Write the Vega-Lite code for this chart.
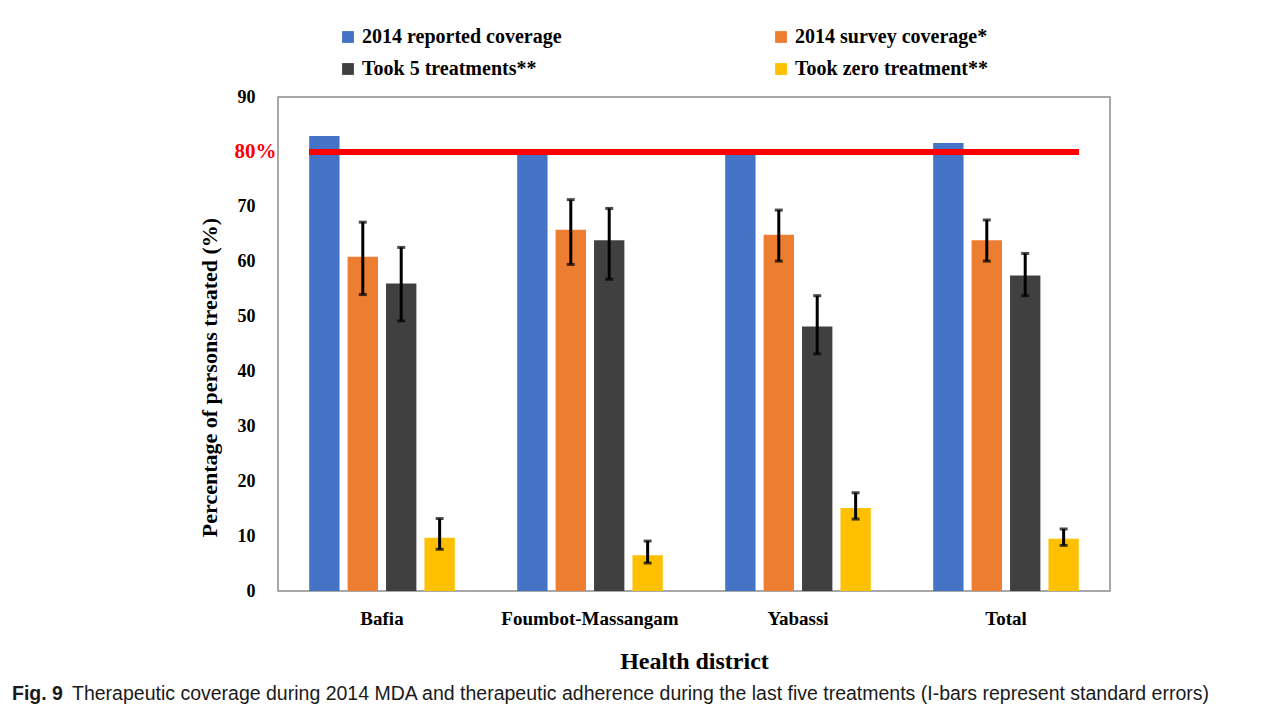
{
  "$schema": "https://vega.github.io/schema/vega-lite/v6.json",
  "width": 832,
  "height": 494,
  "autosize": {"type": "none"},
  "padding": {"left": 278, "top": 97, "right": 171, "bottom": 119},
  "background": "white",
  "data": {
    "values": [
      {"district": "Bafia", "series": "2014 reported coverage", "value": 82.9, "lo": null, "hi": null},
      {"district": "Bafia", "series": "2014 survey coverage*", "value": 60.9, "lo": 54.0, "hi": 67.2},
      {"district": "Bafia", "series": "Took 5 treatments**", "value": 56.0, "lo": 49.2, "hi": 62.6},
      {"district": "Bafia", "series": "Took zero treatment**", "value": 9.7, "lo": 7.6, "hi": 13.2},
      {"district": "Foumbot-Massangam", "series": "2014 reported coverage", "value": 79.8, "lo": null, "hi": null},
      {"district": "Foumbot-Massangam", "series": "2014 survey coverage*", "value": 65.8, "lo": 59.5, "hi": 71.3},
      {"district": "Foumbot-Massangam", "series": "Took 5 treatments**", "value": 63.9, "lo": 56.8, "hi": 69.7},
      {"district": "Foumbot-Massangam", "series": "Took zero treatment**", "value": 6.5, "lo": 5.1, "hi": 9.1},
      {"district": "Yabassi", "series": "2014 reported coverage", "value": 80.3, "lo": null, "hi": null},
      {"district": "Yabassi", "series": "2014 survey coverage*", "value": 64.9, "lo": 60.1, "hi": 69.4},
      {"district": "Yabassi", "series": "Took 5 treatments**", "value": 48.2, "lo": 43.2, "hi": 53.8},
      {"district": "Yabassi", "series": "Took zero treatment**", "value": 15.1, "lo": 13.1, "hi": 17.9},
      {"district": "Total", "series": "2014 reported coverage", "value": 81.6, "lo": null, "hi": null},
      {"district": "Total", "series": "2014 survey coverage*", "value": 63.9, "lo": 60.1, "hi": 67.6},
      {"district": "Total", "series": "Took 5 treatments**", "value": 57.5, "lo": 53.8, "hi": 61.5},
      {"district": "Total", "series": "Took zero treatment**", "value": 9.5, "lo": 8.3, "hi": 11.3}
    ]
  },
  "title": {
    "text": "Fig. 9",
    "subtitle": "\u2800\u2800\u2800\u2800Therapeutic coverage during 2014 MDA and therapeutic adherence during the last five treatments (I-bars represent standard errors)",
    "orient": "bottom",
    "anchor": "start",
    "frame": "group",
    "dx": -266,
    "offset": 12,
    "font": "Liberation Sans",
    "fontSize": 19.5,
    "fontWeight": "bold",
    "color": "#1a1a1a",
    "subtitleFont": "Liberation Sans",
    "subtitleFontSize": 19.5,
    "subtitleFontWeight": "normal",
    "subtitleColor": "#1a1a1a",
    "subtitlePadding": -19.5
  },
  "encoding": {
    "x": {
      "field": "district",
      "type": "nominal",
      "sort": ["Bafia", "Foumbot-Massangam", "Yabassi", "Total"],
      "scale": {"paddingInner": 0.3, "paddingOuter": 0.15},
      "axis": {
        "title": "Health district",
        "titleFont": "Liberation Serif",
        "titleFontSize": 24,
        "titleFontWeight": "bold",
        "titleColor": "black",
        "titlePadding": 21,
        "labelFont": "Liberation Serif",
        "labelFontSize": 19,
        "labelFontWeight": "bold",
        "labelColor": "black",
        "labelAngle": 0,
        "labelPadding": 18,
        "ticks": false,
        "domain": false
      }
    }
  },
  "layer": [
    {
      "mark": {"type": "bar"},
      "encoding": {
        "xOffset": {
          "field": "series",
          "type": "nominal",
          "sort": ["2014 reported coverage", "2014 survey coverage*", "Took 5 treatments**", "Took zero treatment**"],
          "scale": {"paddingInner": 0.21, "paddingOuter": 0}
        },
        "y": {
          "field": "value",
          "type": "quantitative",
          "scale": {"domain": [0, 90], "nice": false},
          "axis": {
            "title": "Percentage of persons  treated (%)",
            "titleFont": "Liberation Serif",
            "titleFontSize": 22,
            "titleFontWeight": "bold",
            "titleColor": "black",
            "titleX": -57,
            "titleY": 280,
            "values": [0, 10, 20, 30, 40, 50, 60, 70, 80, 90],
            "labelExpr": "datum.value == 80 ? '80%' : datum.label",
            "labelFont": "Liberation Serif",
            "labelFontSize": {"condition": {"test": "datum.value == 80", "value": 21}, "value": 18},
            "labelFontWeight": "bold",
            "labelColor": {"condition": {"test": "datum.value == 80", "value": "#ff0000"}, "value": "black"},
            "labelPadding": {"condition": {"test": "datum.value == 80", "value": 2}, "value": 23},
            "ticks": false,
            "domain": false,
            "grid": false
          }
        },
        "color": {
          "field": "series",
          "type": "nominal",
          "sort": ["2014 reported coverage", "2014 survey coverage*", "Took 5 treatments**", "Took zero treatment**"],
          "scale": {
            "domain": ["2014 reported coverage", "2014 survey coverage*", "Took 5 treatments**", "Took zero treatment**"],
            "range": ["#4472C4", "#ED7D31", "#404040", "#FFC000"]
          },
          "legend": {
            "title": null,
            "orient": "none",
            "legendX": 60,
            "legendY": -70,
            "direction": "horizontal",
            "columns": 2,
            "columnPadding": 209,
            "rowPadding": 12,
            "symbolType": "square",
            "symbolSize": 140,
            "symbolStrokeWidth": 0,
            "labelFont": "Liberation Serif",
            "labelFontSize": 20,
            "labelFontWeight": "bold",
            "labelColor": "black",
            "labelOffset": 4,
            "labelLimit": 0
          }
        }
      }
    },
    {
      "mark": {"type": "rule", "color": "#ff0000", "strokeWidth": 5},
      "encoding": {
        "x": {"datum": "Bafia", "bandPosition": 0},
        "x2": {"datum": "Total", "bandPosition": 1},
        "y": {"datum": 80, "type": "quantitative"}
      }
    },
    {
      "transform": [{"filter": "datum.lo != null"}],
      "mark": {"type": "rule", "color": "black", "strokeWidth": 3},
      "encoding": {
        "xOffset": {
          "field": "series",
          "type": "nominal",
          "sort": ["2014 reported coverage", "2014 survey coverage*", "Took 5 treatments**", "Took zero treatment**"]
        },
        "y": {"field": "lo", "type": "quantitative"},
        "y2": {"field": "hi"}
      }
    },
    {
      "transform": [{"filter": "datum.lo != null"}],
      "mark": {"type": "tick", "color": "black", "size": 8, "thickness": 3},
      "encoding": {
        "xOffset": {
          "field": "series",
          "type": "nominal",
          "sort": ["2014 reported coverage", "2014 survey coverage*", "Took 5 treatments**", "Took zero treatment**"]
        },
        "y": {"field": "lo", "type": "quantitative"}
      }
    },
    {
      "transform": [{"filter": "datum.lo != null"}],
      "mark": {"type": "tick", "color": "black", "size": 8, "thickness": 3},
      "encoding": {
        "xOffset": {
          "field": "series",
          "type": "nominal",
          "sort": ["2014 reported coverage", "2014 survey coverage*", "Took 5 treatments**", "Took zero treatment**"]
        },
        "y": {"field": "hi", "type": "quantitative"}
      }
    }
  ],
  "config": {
    "view": {"stroke": "#8c8c8c", "strokeWidth": 1.5},
    "tick": {"orient": "horizontal"}
  }
}
